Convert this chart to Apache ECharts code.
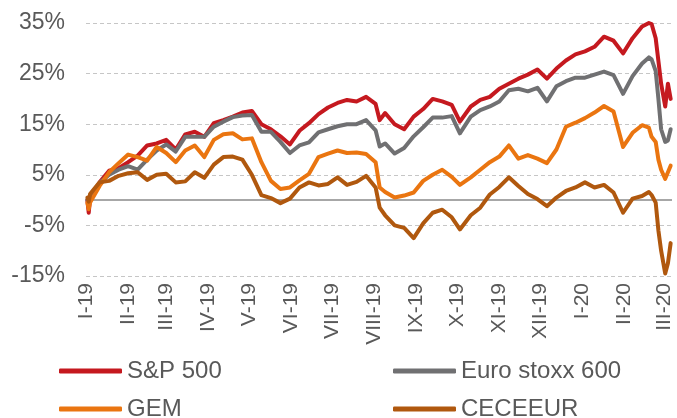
<!DOCTYPE html>
<html>
<head>
<meta charset="utf-8">
<script src="https://cdn.jsdelivr.net/npm/echarts@6/dist/echarts.min.js"></script>
<style>html,body{margin:0;padding:0;background:#fff;}#c{width:677px;height:418px;}</style>
</head>
<body>
<div id="c"></div>
<script>
const dates = ['2019-01-02','2019-01-03','2019-01-04','2019-01-11','2019-01-18','2019-01-25','2019-02-01','2019-02-08','2019-02-15','2019-02-22',
'2019-03-01','2019-03-08','2019-03-15','2019-03-22','2019-03-29','2019-04-05','2019-04-12','2019-04-19','2019-04-26','2019-05-03',
'2019-05-10','2019-05-17','2019-05-24','2019-05-31','2019-06-07','2019-06-14','2019-06-21','2019-06-28','2019-07-05','2019-07-12',
'2019-07-19','2019-07-26','2019-08-02','2019-08-05','2019-08-09','2019-08-16','2019-08-23','2019-08-30','2019-09-06','2019-09-13',
'2019-09-20','2019-09-27','2019-10-03','2019-10-11','2019-10-18','2019-10-25','2019-11-01','2019-11-08','2019-11-15','2019-11-22',
'2019-11-29','2019-12-06','2019-12-13','2019-12-20','2019-12-27','2020-01-03','2020-01-10','2020-01-17','2020-01-24','2020-01-31',
'2020-02-07','2020-02-14','2020-02-19','2020-02-21','2020-02-24','2020-02-26','2020-02-28','2020-03-02','2020-03-04','2020-03-06'];

const sp500 = [0.0,-2.5,0.3,3.5,5.8,6.3,7.5,8.8,10.8,11.2,
11.9,10.0,13.0,13.5,12.5,15.2,15.8,16.5,17.3,17.6,
15.0,14.0,12.6,11.0,13.7,15.2,17.0,18.3,19.2,19.8,
19.5,20.4,19.0,15.8,17.2,15.0,14.0,16.5,18.0,20.0,
19.5,18.8,15.5,18.5,19.8,20.4,22.0,23.0,24.0,24.8,
25.8,24.0,26.0,27.6,28.8,29.4,30.3,32.3,31.5,29.0,
32.0,34.3,35.0,34.8,32.0,27.5,23.0,18.5,23.0,20.0];

const stoxx600 = [0.0,-0.5,1.0,3.4,5.0,6.0,6.7,6.0,8.0,9.8,
11.0,9.6,12.5,12.5,12.5,14.5,15.5,16.4,16.7,16.8,
13.5,13.5,11.5,9.3,10.8,11.4,13.4,14.0,14.6,15.0,
15.0,15.8,13.8,10.6,11.2,9.2,10.3,12.6,14.4,16.3,
16.3,16.6,13.2,16.5,17.8,18.5,19.5,21.7,22.0,21.5,
22.2,19.5,22.5,23.5,24.2,24.2,24.8,25.4,24.7,21.0,
24.5,27.0,28.2,27.8,25.5,20.0,14.0,11.5,11.8,14.0];

const gem = [-0.5,-1.8,-0.5,2.8,5.5,7.3,9.0,8.5,7.8,10.5,
9.3,7.5,9.8,10.8,8.5,11.9,13.0,13.2,12.0,12.2,
7.5,3.8,2.2,2.5,3.9,5.2,8.5,9.2,9.8,9.3,
9.4,9.1,7.5,2.5,1.6,0.5,0.9,1.5,3.8,5.0,
6.0,4.6,3.0,4.5,6.0,7.5,8.6,10.8,8.2,8.9,
8.2,7.3,10.0,14.5,15.3,16.2,17.3,18.6,17.5,10.5,
13.3,14.8,14.3,12.5,11.5,8.0,6.0,4.2,5.5,6.8];

const ceceeur = [0.5,-0.3,1.2,3.5,3.8,4.8,5.3,5.5,4.0,5.0,
5.2,3.5,3.7,5.5,4.4,7.0,8.5,8.6,8.0,5.0,
1.0,0.4,-0.6,0.3,2.5,3.5,2.9,3.2,4.5,3.0,
3.6,4.8,2.5,-1.5,-3.0,-5.0,-5.5,-7.5,-4.6,-2.5,
-1.9,-3.4,-5.8,-3.0,-1.5,1.1,2.6,4.5,2.8,1.2,
0.2,-1.2,0.5,1.8,2.5,3.5,2.5,3.0,1.5,-2.5,
0.3,0.8,1.6,1.0,-0.5,-6.0,-10.0,-14.5,-12.5,-8.5];

const seriesNames = ['S&P 500','Euro stoxx 600','GEM','CECEEUR'];
const monthStarts = ['2019-01-01','2019-02-01','2019-03-01','2019-04-01','2019-05-01','2019-06-01','2019-07-01','2019-08-01',
'2019-09-01','2019-10-01','2019-11-01','2019-12-01','2020-01-01','2020-02-01','2020-03-01'];
const monthLabels = ['I-19','II-19','III-19','IV-19','V-19','VI-19','VII-19','VIII-19','IX-19','X-19','XI-19','XII-19','I-20','II-20','III-20'];
const yTicks = [-15,-5,5,15,25,35];
const xRange = ['2019-01-01','2020-03-07'];

const colors = ['#C5191F','#707072','#EA7510','#B0580E'];
const pd = s => echarts.number.parseDate(s).getTime();
const monthTs = monthStarts.map(pd);
const dateTs = dates.map(pd);
const pair = arr => dateTs.map((t, i) => [t, arr[i]]);
const values = [sp500, stoxx600, gem, ceceeur];

const chart = echarts.init(document.getElementById('c'), null, {renderer: 'canvas'});
const font = 'Liberation Sans, Arial, sans-serif';
const legendText = {fontSize: 24, color: '#595959', fontFamily: font, lineHeight: 24};
const legendPos = [[59, 359], [393, 359], [59, 397], [393, 397]];
chart.setOption({
  animation: false,
  backgroundColor: '#ffffff',
  color: colors,
  grid: {left: 86, right: 5, top: 23, bottom: 142, containLabel: false},
  legend: seriesNames.map((n, k) => ({
    data: [n], left: legendPos[k][0], top: legendPos[k][1],
    itemWidth: 63, itemHeight: 5, icon: 'roundRect', textStyle: legendText,
    padding: 0
  })),
  xAxis: {
    type: 'value',
    min: pd(xRange[0]),
    max: pd(xRange[1]),
    axisLine: {show: false},
    axisTick: {show: false},
    splitLine: {show: false},
    axisLabel: {
      customValues: monthTs,
      rotate: 90,
      margin: 7,
      fontSize: 21,
      color: '#595959',
      fontFamily: font,
      hideOverlap: false,
      showMinLabel: true,
      showMaxLabel: true,
      formatter: function (v) {
        const i = monthTs.indexOf(v);
        return i >= 0 ? monthLabels[i] : '';
      }
    }
  },
  yAxis: {
    type: 'value',
    min: yTicks[0],
    max: yTicks[yTicks.length - 1],
    interval: 10,
    axisLine: {show: false},
    axisTick: {show: false},
    axisLabel: {formatter: '{value}%', fontSize: 23, color: '#595959', fontFamily: font, margin: 21},
    splitLine: {lineStyle: {type: [4, 3], color: '#c6c6c6', width: 1}}
  },
  series: seriesNames.map((n, k) => {
    const s = {
      name: n,
      type: 'line',
      data: pair(values[k]),
      showSymbol: false,
      symbol: 'none',
      lineStyle: {width: 4, color: colors[k], join: 'round', cap: 'round'},
      z: 3 + k
    };
    if (k === 0) {
      s.markLine = {
        silent: true, symbol: 'none', label: {show: false},
        lineStyle: {type: 'solid', color: '#8a8a8a', width: 1.5},
        data: [{yAxis: 0}]
      };
    }
    return s;
  })
});
</script>
</body>
</html>
